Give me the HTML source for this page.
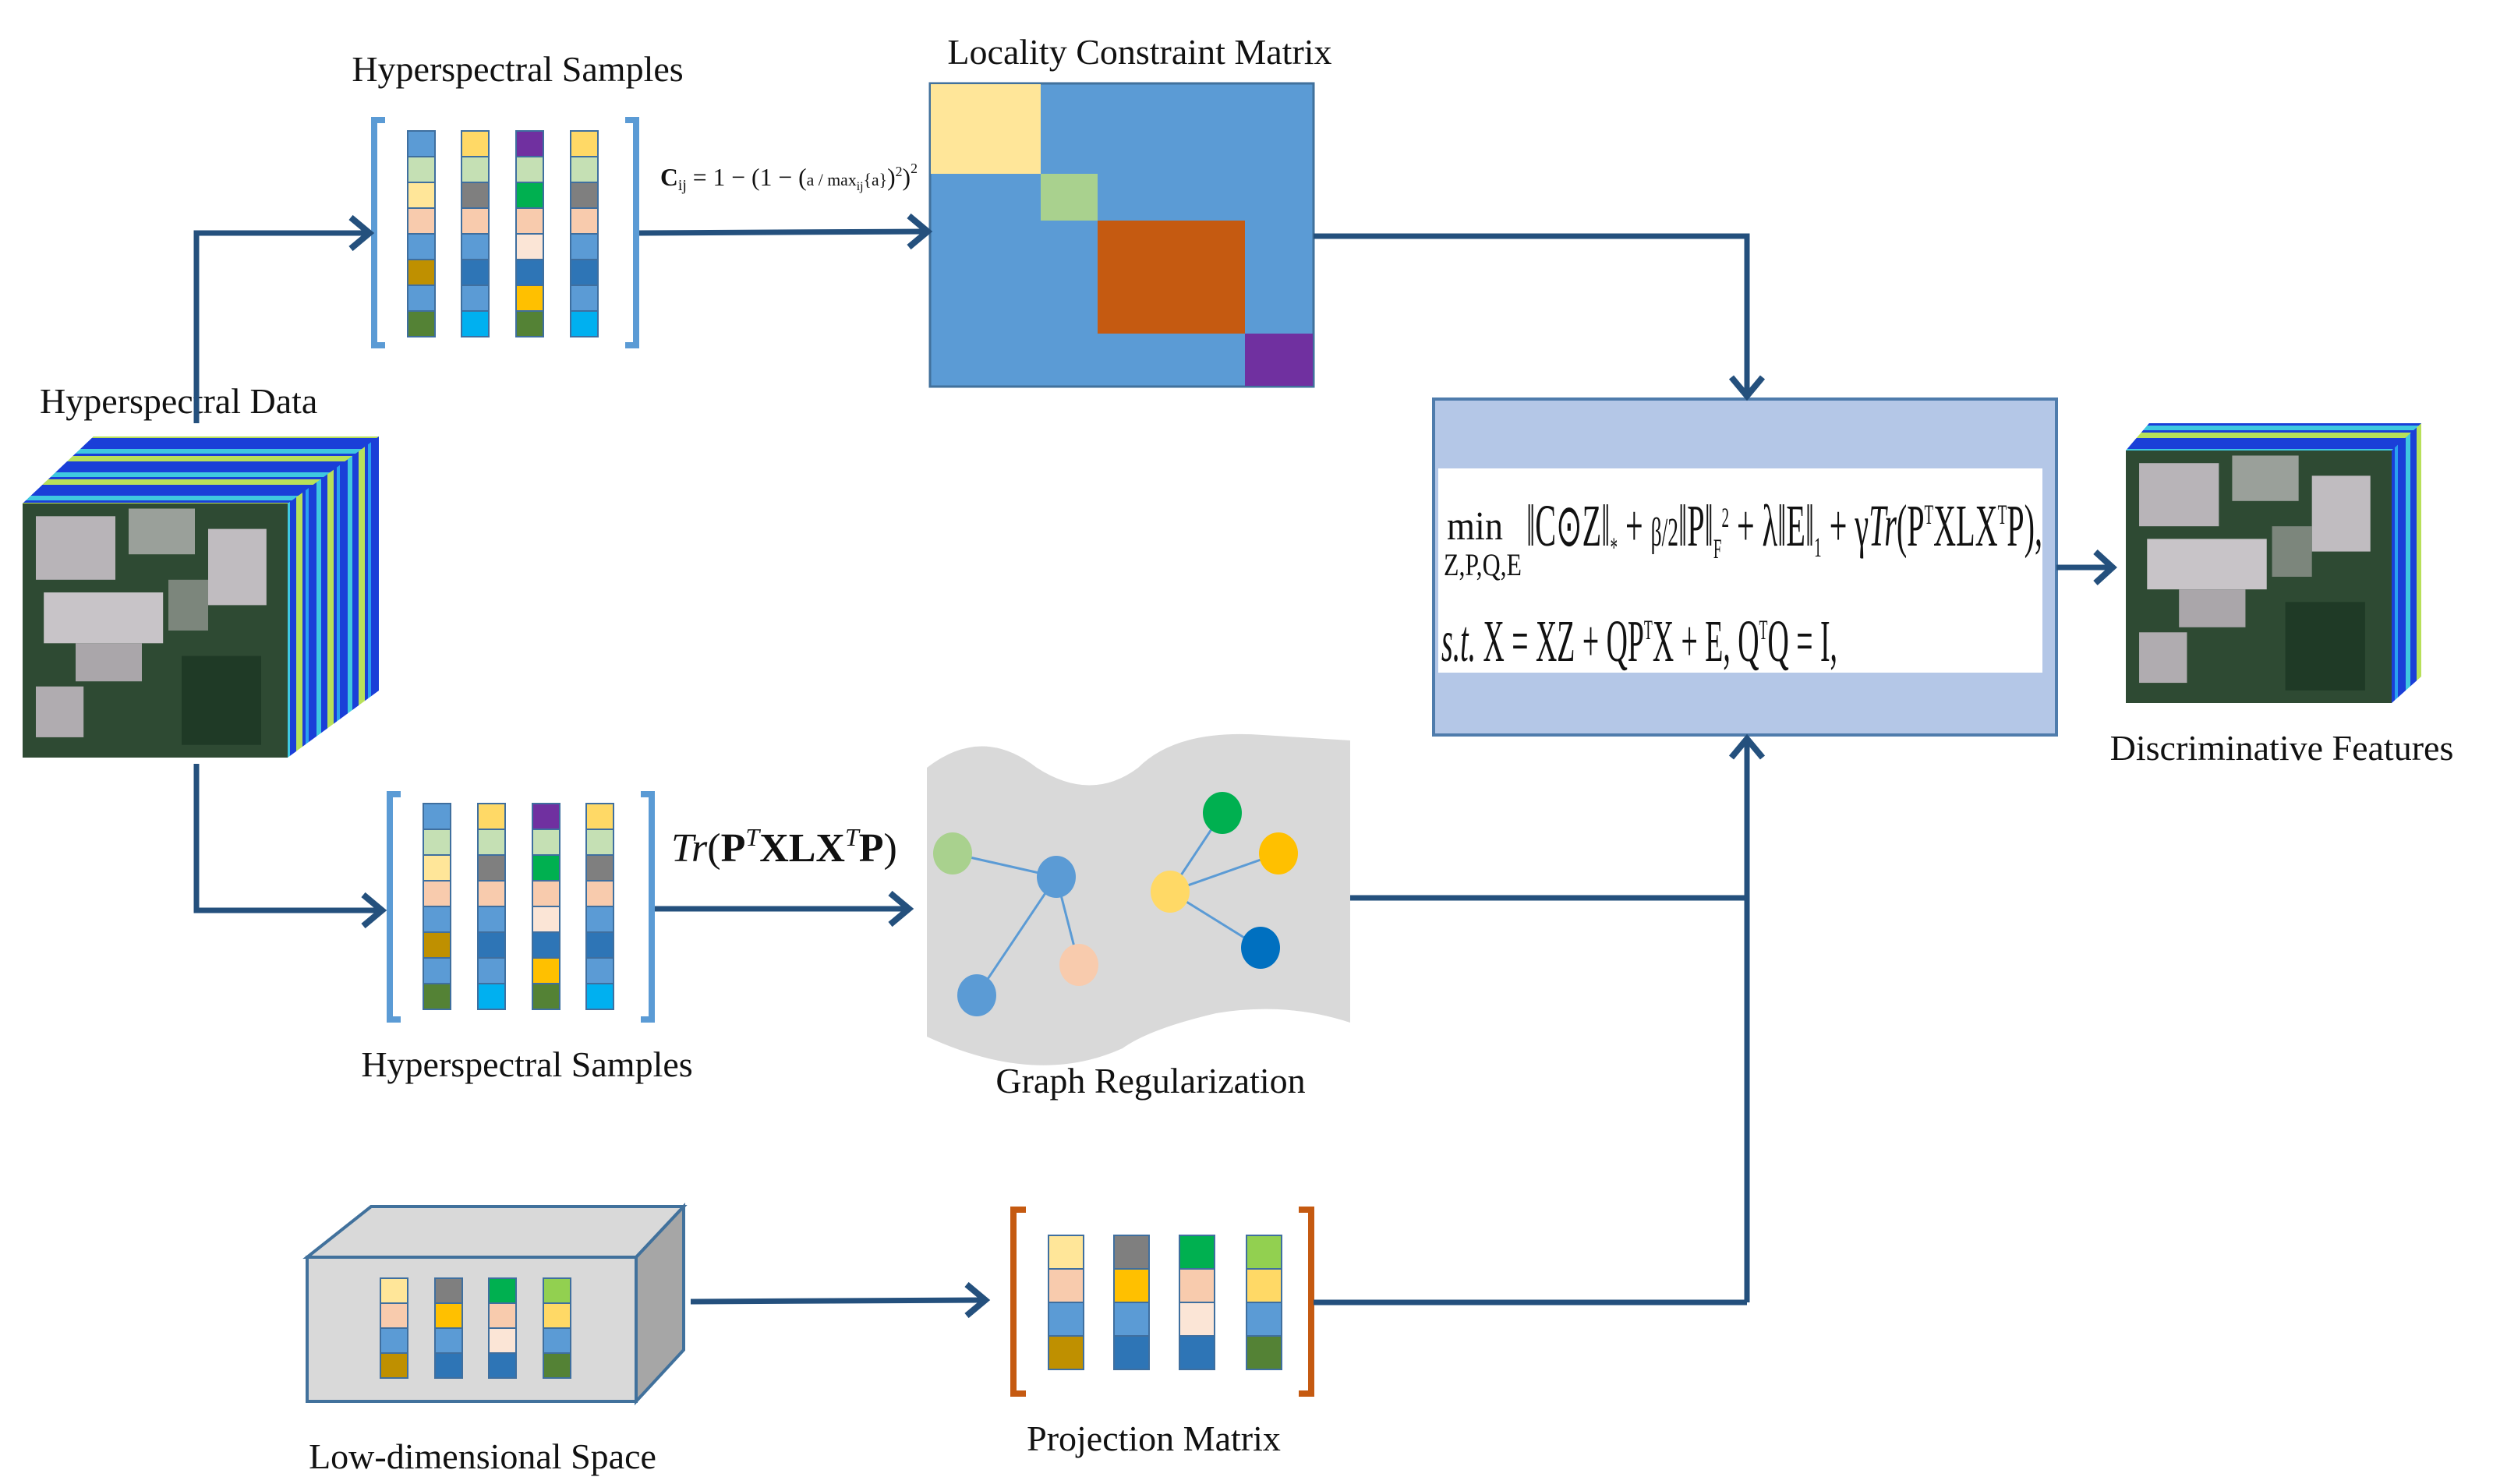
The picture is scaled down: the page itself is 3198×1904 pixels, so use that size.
<!DOCTYPE html>
<html><head><meta charset="utf-8"><style>
html,body{margin:0;padding:0;background:#fff;}
svg{display:block;}
text{font-family:"Liberation Serif",serif;fill:#111;}
</style></head><body>
<svg width="3198" height="1904" viewBox="0 0 3198 1904" xmlns="http://www.w3.org/2000/svg">
<defs>
<g id="c1" stroke="#3f6f9f" stroke-width="2">
<rect x="0" y="0" width="35" height="33" fill="#5b9bd5"/><rect x="0" y="33" width="35" height="33" fill="#c5e0b4"/><rect x="0" y="66" width="35" height="33" fill="#ffe699"/><rect x="0" y="99" width="35" height="33" fill="#f8cbad"/><rect x="0" y="132" width="35" height="33" fill="#5b9bd5"/><rect x="0" y="165" width="35" height="33" fill="#bf9000"/><rect x="0" y="198" width="35" height="33" fill="#5b9bd5"/><rect x="0" y="231" width="35" height="33" fill="#548235"/></g>
<g id="c2" stroke="#3f6f9f" stroke-width="2">
<rect x="0" y="0" width="35" height="33" fill="#ffd966"/><rect x="0" y="33" width="35" height="33" fill="#c5e0b4"/><rect x="0" y="66" width="35" height="33" fill="#7f7f7f"/><rect x="0" y="99" width="35" height="33" fill="#f8cbad"/><rect x="0" y="132" width="35" height="33" fill="#5b9bd5"/><rect x="0" y="165" width="35" height="33" fill="#2e75b6"/><rect x="0" y="198" width="35" height="33" fill="#5b9bd5"/><rect x="0" y="231" width="35" height="33" fill="#00b0f0"/></g>
<g id="c3" stroke="#3f6f9f" stroke-width="2">
<rect x="0" y="0" width="35" height="33" fill="#7030a0"/><rect x="0" y="33" width="35" height="33" fill="#c5e0b4"/><rect x="0" y="66" width="35" height="33" fill="#00b050"/><rect x="0" y="99" width="35" height="33" fill="#f8cbad"/><rect x="0" y="132" width="35" height="33" fill="#fbe5d6"/><rect x="0" y="165" width="35" height="33" fill="#2e75b6"/><rect x="0" y="198" width="35" height="33" fill="#ffc000"/><rect x="0" y="231" width="35" height="33" fill="#548235"/></g>
<g id="c4" stroke="#3f6f9f" stroke-width="2">
<rect x="0" y="0" width="35" height="33" fill="#ffd966"/><rect x="0" y="33" width="35" height="33" fill="#c5e0b4"/><rect x="0" y="66" width="35" height="33" fill="#7f7f7f"/><rect x="0" y="99" width="35" height="33" fill="#f8cbad"/><rect x="0" y="132" width="35" height="33" fill="#5b9bd5"/><rect x="0" y="165" width="35" height="33" fill="#2e75b6"/><rect x="0" y="198" width="35" height="33" fill="#5b9bd5"/><rect x="0" y="231" width="35" height="33" fill="#00b0f0"/></g>
<g id="s1" stroke="#3f6f9f" stroke-width="2">
<rect y="0" width="1" height="1" fill="#ffe699" vector-effect="non-scaling-stroke"/><rect y="1" width="1" height="1" fill="#f8cbad" vector-effect="non-scaling-stroke"/><rect y="2" width="1" height="1" fill="#5b9bd5" vector-effect="non-scaling-stroke"/><rect y="3" width="1" height="1" fill="#bf9000" vector-effect="non-scaling-stroke"/></g>
<g id="s2" stroke="#3f6f9f" stroke-width="2">
<rect y="0" width="1" height="1" fill="#7f7f7f" vector-effect="non-scaling-stroke"/><rect y="1" width="1" height="1" fill="#ffc000" vector-effect="non-scaling-stroke"/><rect y="2" width="1" height="1" fill="#5b9bd5" vector-effect="non-scaling-stroke"/><rect y="3" width="1" height="1" fill="#2e75b6" vector-effect="non-scaling-stroke"/></g>
<g id="s3" stroke="#3f6f9f" stroke-width="2">
<rect y="0" width="1" height="1" fill="#00b050" vector-effect="non-scaling-stroke"/><rect y="1" width="1" height="1" fill="#f8cbad" vector-effect="non-scaling-stroke"/><rect y="2" width="1" height="1" fill="#fbe5d6" vector-effect="non-scaling-stroke"/><rect y="3" width="1" height="1" fill="#2e75b6" vector-effect="non-scaling-stroke"/></g>
<g id="s4" stroke="#3f6f9f" stroke-width="2">
<rect y="0" width="1" height="1" fill="#92d050" vector-effect="non-scaling-stroke"/><rect y="1" width="1" height="1" fill="#ffd966" vector-effect="non-scaling-stroke"/><rect y="2" width="1" height="1" fill="#5b9bd5" vector-effect="non-scaling-stroke"/><rect y="3" width="1" height="1" fill="#548235" vector-effect="non-scaling-stroke"/></g>
<pattern id="side" width="40" height="412" patternUnits="userSpaceOnUse">
<rect width="40" height="412" fill="#1a3fd8"/>
<rect x="6" width="6" height="412" fill="#3fc8e0"/><rect x="20" width="8" height="412" fill="#b8e05a"/><rect x="32" width="4" height="412" fill="#29a0f0"/>
</pattern>
<pattern id="top" width="412" height="30" patternUnits="userSpaceOnUse">
<rect width="412" height="30" fill="#1a3fd8"/><rect y="6" width="412" height="6" fill="#3fc8e0"/><rect y="15" width="412" height="7" fill="#b8e05a"/>
</pattern>
<g id="photo">
<rect width="100" height="100" fill="#2e4a33"/>
<rect x="5" y="5" width="30" height="25" fill="#b8b4b8"/><rect x="40" y="2" width="25" height="18" fill="#9aa09a"/>
<rect x="8" y="35" width="45" height="20" fill="#c8c4c8"/><rect x="20" y="55" width="25" height="15" fill="#aaa6aa"/>
<rect x="70" y="10" width="22" height="30" fill="#c0bcc0"/><rect x="55" y="30" width="15" height="20" fill="#7c867c"/>
<rect x="5" y="72" width="18" height="20" fill="#b0acb0"/><rect x="60" y="60" width="30" height="35" fill="#1f3a26"/>
</g>
</defs>

<!-- left cube -->
<polygon points="29,646 120,560 486,560 486,886 369,972 369,646" fill="url(#side)"/>
<polygon points="29,646 120,560 486,560 369,646" fill="url(#top)"/>
<svg x="29" y="646" width="340" height="326" viewBox="0 0 100 100" preserveAspectRatio="none"><use href="#photo"/></svg>

<!-- right cube -->
<polygon points="2727,578 2757,543 3106,543 3106,868 3068,902 3068,578" fill="url(#side)"/>
<polygon points="2727,578 2757,543 3106,543 3068,578" fill="url(#top)"/>
<svg x="2727" y="578" width="341" height="324" viewBox="0 0 100 100" preserveAspectRatio="none"><use href="#photo"/></svg>

<!-- labels -->
<g font-size="46">
<text x="664" y="104" text-anchor="middle">Hyperspectral Samples</text>
<text x="1462" y="82" text-anchor="middle">Locality Constraint Matrix</text>
<text x="51" y="530">Hyperspectral Data</text>
<text x="2927" y="975" text-anchor="middle">Discriminative Features</text>
<text x="676" y="1381" text-anchor="middle">Hyperspectral Samples</text>
<text x="1476" y="1402" text-anchor="middle">Graph Regularization</text>
<text x="619" y="1884" text-anchor="middle">Low-dimensional Space</text>
<text x="1480" y="1861" text-anchor="middle">Projection Matrix</text>
</g>

<!-- top bracket & columns -->
<path d="M494,154 H480 V443 H494 M802,154 H816 V443 H802" fill="none" stroke="#5b9bd5" stroke-width="8"/>
<use href="#c1" x="523" y="168"/><use href="#c2" x="592" y="168"/><use href="#c3" x="662" y="168"/><use href="#c4" x="732" y="168"/>
<text x="847" y="238" font-size="32" fill="#333" textLength="330" lengthAdjust="spacingAndGlyphs"><tspan font-weight="bold">C</tspan><tspan font-size="20" dy="6">ij</tspan><tspan dy="-6"> = 1 − (1 − (</tspan><tspan font-size="22">a / max</tspan><tspan font-size="16" dy="6">ij</tspan><tspan dy="-6" font-size="22">{a}</tspan>)<tspan font-size="18" dy="-12">2</tspan><tspan dy="12">)</tspan><tspan font-size="18" dy="-16">2</tspan></text>

<!-- bottom bracket & columns -->
<path d="M514,1019 H500 V1308 H514 M822,1019 H836 V1308 H822" fill="none" stroke="#5b9bd5" stroke-width="8"/>
<use href="#c1" x="543" y="1031"/><use href="#c2" x="613" y="1031"/><use href="#c3" x="683" y="1031"/><use href="#c4" x="752" y="1031"/>
<text x="861" y="1105" font-size="52"><tspan font-style="italic">Tr</tspan>(<tspan font-weight="bold">P</tspan><tspan font-size="32" dy="-20" font-style="italic">T</tspan><tspan dy="20" font-weight="bold">XLX</tspan><tspan font-size="32" dy="-20" font-style="italic">T</tspan><tspan dy="20" font-weight="bold">P</tspan>)</text>

<!-- matrix -->
<rect x="1193" y="107" width="492" height="389" fill="#5b9bd5" stroke="#41719c" stroke-width="3"/>
<rect x="1194" y="108" width="141" height="115" fill="#ffe699"/>
<rect x="1335" y="223" width="73" height="60" fill="#a9d18e"/>
<rect x="1408" y="283" width="189" height="145" fill="#c55a11"/>
<rect x="1597" y="428" width="87" height="67" fill="#7030a0"/>

<!-- formula box -->
<rect x="1839" y="512" width="799" height="431" fill="#b4c7e7" stroke="#4f7cac" stroke-width="4"/>
<rect x="1845" y="601" width="775" height="262" fill="#fff"/>
<g font-size="76">
<text x="1856" y="692" font-size="52" textLength="72" lengthAdjust="spacingAndGlyphs">min</text>
<text x="1852" y="738" font-size="40" textLength="100" lengthAdjust="spacingAndGlyphs">Z,P,Q,E</text>
<text x="1958" y="700" textLength="662" lengthAdjust="spacingAndGlyphs">‖C⊙Z‖<tspan font-size="36" dy="14">*</tspan><tspan dy="-14"> + </tspan><tspan font-size="52">β/2</tspan>‖P‖<tspan font-size="36" dy="16">F</tspan><tspan font-size="36" dy="-40">2</tspan><tspan dy="24"> + λ‖E‖</tspan><tspan font-size="36" dy="14">1</tspan><tspan dy="-14"> + γ</tspan><tspan font-style="italic">Tr</tspan>(P<tspan font-size="36" dy="-28">T</tspan><tspan dy="28">XLX</tspan><tspan font-size="36" dy="-28">T</tspan><tspan dy="28">P),</tspan></text>
<text x="1849" y="848" textLength="508" lengthAdjust="spacingAndGlyphs"><tspan font-style="italic">s.t.</tspan> X = XZ + QP<tspan font-size="36" dy="-28">T</tspan><tspan dy="28">X + E, Q</tspan><tspan font-size="36" dy="-28">T</tspan><tspan dy="28">Q = I,</tspan></text>
</g>

<!-- graph -->
<path d="M1189,985 Q1260,930 1330,985 Q1400,1030 1460,985 Q1510,935 1620,943 L1732,950 L1732,1312 Q1650,1285 1560,1300 Q1475,1320 1440,1345 Q1330,1395 1189,1330 Z" fill="#d9d9d9"/>
<g stroke="#5b9bd5" stroke-width="3">
<line x1="1222" y1="1095" x2="1355" y2="1125"/><line x1="1355" y1="1125" x2="1253" y2="1277"/><line x1="1355" y1="1125" x2="1384" y2="1238"/>
<line x1="1501" y1="1144" x2="1568" y2="1043"/><line x1="1501" y1="1144" x2="1640" y2="1095"/><line x1="1501" y1="1144" x2="1617" y2="1216"/>
</g>
<ellipse cx="1222" cy="1095" rx="25" ry="27" fill="#a9d18e"/>
<ellipse cx="1355" cy="1125" rx="25" ry="27" fill="#5b9bd5"/>
<ellipse cx="1384" cy="1238" rx="25" ry="27" fill="#f8cbad"/>
<ellipse cx="1253" cy="1277" rx="25" ry="27" fill="#5b9bd5"/>
<ellipse cx="1568" cy="1043" rx="25" ry="27" fill="#00b050"/>
<ellipse cx="1640" cy="1095" rx="25" ry="27" fill="#ffc000"/>
<ellipse cx="1501" cy="1144" rx="25" ry="27" fill="#ffd966"/>
<ellipse cx="1617" cy="1216" rx="25" ry="27" fill="#0070c0"/>

<!-- low-dim box -->
<polygon points="394,1613 476,1548 877,1548 816,1613" fill="#d9d9d9" stroke="#41719c" stroke-width="4"/>
<polygon points="816,1613 877,1548 877,1732 816,1798" fill="#a6a6a6" stroke="#41719c" stroke-width="4"/>
<rect x="394" y="1613" width="422" height="185" fill="#d9d9d9" stroke="#41719c" stroke-width="4"/>
<use href="#s1" transform="translate(488,1640) scale(35,32)"/>
<use href="#s2" transform="translate(558,1640) scale(35,32)"/>
<use href="#s3" transform="translate(627,1640) scale(35,32)"/>
<use href="#s4" transform="translate(697,1640) scale(35,32)"/>

<!-- projection bracket -->
<path d="M1316,1552 H1300 V1788 H1316 M1666,1552 H1682 V1788 H1666" fill="none" stroke="#c55a11" stroke-width="8"/>
<use href="#s1" transform="translate(1345,1585) scale(45,43)"/>
<use href="#s2" transform="translate(1429,1585) scale(45,43)"/>
<use href="#s3" transform="translate(1513,1585) scale(45,43)"/>
<use href="#s4" transform="translate(1599,1585) scale(45,43)"/>

<!-- connectors -->
<g fill="none" stroke="#24507d" stroke-width="7">
<path d="M252,543 V299 H472"/>
<path d="M820,299 L1188,297"/>
<path d="M1685,303 H2241 V506"/>
<path d="M252,980 V1168 H488"/>
<path d="M840,1166 H1164"/>
<path d="M1732,1152 H2241"/>
<path d="M2241,1671 V950"/>
<path d="M886,1670 L1262,1668"/>
<path d="M1685,1671 H2241"/>
<path d="M2638,728 H2708"/>
</g>
<g fill="none" stroke="#24507d" stroke-width="8" stroke-linejoin="miter">
<path d="M450,279 L474,299 L450,319"/>
<path d="M1166,277 L1190,297 L1166,317"/>
<path d="M2221,484 L2241,508 L2261,484"/>
<path d="M466,1148 L490,1168 L466,1188"/>
<path d="M1142,1146 L1166,1166 L1142,1186"/>
<path d="M2221,972 L2241,948 L2261,972"/>
<path d="M1240,1648 L1264,1668 L1240,1688"/>
<path d="M2688,708 L2710,728 L2688,748"/>
</g>
</svg>
</body></html>
